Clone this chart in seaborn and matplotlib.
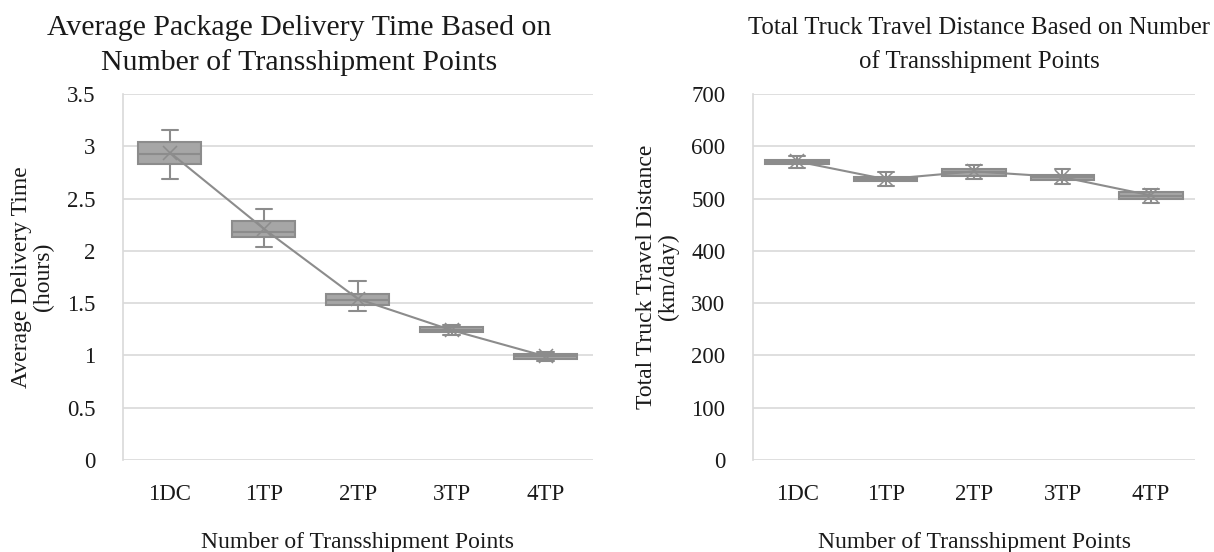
import numpy as np
import pandas as pd
import matplotlib
matplotlib.use("Agg")
import matplotlib.pyplot as plt
import seaborn as sns

# ---- data ----
cats = ["1DC", "1TP", "2TP", "3TP", "4TP"]

time_min = [2.69, 2.04, 1.42, 1.20, 0.95]
time_q1 = [2.83, 2.13, 1.48, 1.22, 0.97]
time_med = [2.93, 2.18, 1.53, 1.245, 0.99]
time_q3 = [3.04, 2.29, 1.59, 1.27, 1.01]
time_max = [3.16, 2.40, 1.71, 1.29, 1.03]
time_mean = [2.94, 2.21, 1.54, 1.24, 0.99]

dist_min = [558, 524, 537, 527, 492]
dist_q1 = [567, 534, 543, 536, 499]
dist_med = [570, 537, 550, 541, 505]
dist_q3 = [573, 541, 557, 546, 512]
dist_max = [581, 550, 565, 556, 519]
dist_mean = [571, 537, 552, 541, 506]

time_ticks = [0, 0.5, 1, 1.5, 2, 2.5, 3, 3.5]
time_ticklabels = ["0", "0.5", "1", "1.5", "2", "2.5", "3", "3.5"]
dist_ticks = [0, 100, 200, 300, 400, 500, 600, 700]


def long_frame(mins, q1s, meds, q3s, maxs):
    rows = []
    for c, a, b, m, d, e in zip(cats, mins, q1s, meds, q3s, maxs):
        for v in (a, b, m, d, e):
            rows.append({"cat": c, "val": v})
    return pd.DataFrame(rows)


sns.set_theme(style="white")
plt.rcParams["font.family"] = ["Liberation Serif", "DejaVu Serif"]

BOX_FILL = "#a6a6a6"
EDGE = "#8c8c8c"
GRID = "#d9d9d9"
TXT = "#1a1a1a"

fig = plt.figure(figsize=(12.14, 5.52), dpi=100)
ax1 = fig.add_axes([0.1013, 0.1667, 0.3871, 0.663])
ax2 = fig.add_axes([0.6203, 0.1667, 0.3641, 0.663])


def draw(ax, df, means, ticks, ticklabels, ylim, title, title_x, title_size,
         title_ls, title_pad, ylabel, width, capw, lpad):
    ax.set_axisbelow(True)
    sns.boxplot(data=df, x="cat", y="val", order=cats, ax=ax, whis=(0, 100),
                width=width, color=BOX_FILL, linecolor=EDGE, linewidth=1.5,
                showfliers=False, saturation=1, capwidths=capw)
    sns.pointplot(x=cats, y=means, ax=ax, color=EDGE, markers="x",
                  markersize=10, linewidth=1.5, errorbar=None, order=cats)
    ax.set_ylim(*ylim)
    ax.set_xlim(-0.5, 4.5)
    ax.set_yticks(ticks)
    ax.set_yticklabels(ticklabels)
    ax.yaxis.grid(True, color=GRID, linewidth=1.2)
    ax.xaxis.grid(False)
    for s in ["top", "right", "bottom"]:
        ax.spines[s].set_visible(False)
    ax.spines["left"].set_color(GRID)
    ax.spines["left"].set_linewidth(1.2)
    ax.tick_params(axis="y", length=0, pad=20, labelsize=16.5, labelcolor=TXT)
    ax.tick_params(axis="x", length=0, pad=17, labelsize=16.5, labelcolor=TXT)
    ax.set_xlabel("Number of Transshipment Points", fontsize=17,
                  labelpad=20, color=TXT)
    ax.set_ylabel(ylabel, fontsize=17, labelpad=lpad, color=TXT,
                  linespacing=1.05)
    ax.set_title(title, fontsize=title_size, pad=title_pad,
                 linespacing=title_ls, color=TXT, x=title_x)


draw(ax1, long_frame(time_min, time_q1, time_med, time_q3, time_max), time_mean,
     time_ticks, time_ticklabels, (0, 3.5),
     "Average Package Delivery Time Based on\nNumber of Transshipment Points",
     0.374, 21.5, 1.4, 17, "Average Delivery Time\n(hours)", 0.67, 0.18, 9)

draw(ax2, long_frame(dist_min, dist_q1, dist_med, dist_q3, dist_max), dist_mean,
     dist_ticks, [str(t) for t in dist_ticks], (0, 700),
     "Total Truck Travel Distance Based on Number\nof Transshipment Points",
     0.511, 17.8, 1.6, 19, "Total Truck Travel Distance\n(km/day)", 0.72, 0.18, 9)

fig.savefig("out.png", dpi=100, facecolor="white")
